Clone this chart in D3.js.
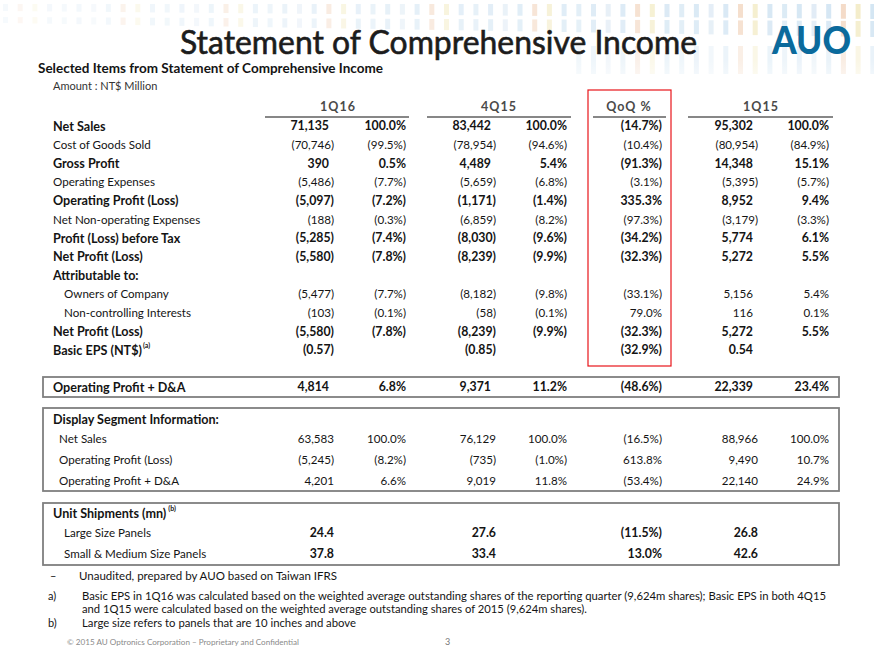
<!DOCTYPE html>
<html><head><meta charset="utf-8">
<script src="https://cdn.jsdelivr.net/npm/d3@7"></script>
<style>
html,body{margin:0;padding:0;background:#fff;}
svg{display:block;font-family:Lato,"Open Sans",sans-serif;}
</style></head>
<body>
<svg id="chart" width="874" height="656"></svg>
<script>
// ---------- DATA ----------
const periods = ["1Q16", "4Q15", "QoQ %", "1Q15"];

const incomeItems = ["Net Sales","Cost of Goods Sold","Gross Profit","Operating Expenses","Operating Profit (Loss)","Net Non-operating Expenses","Profit (Loss) before Tax","Net Profit (Loss)","Attributable to:","Owners of Company","Non-controlling Interests","Net Profit (Loss)","Basic EPS (NT$)"];
const amt1Q16 = [71135,-70746,390,-5486,-5097,-188,-5285,-5580,null,-5477,-103,-5580,-0.57];
const pct1Q16 = [100.0,-99.5,0.5,-7.7,-7.2,-0.3,-7.4,-7.8,null,-7.7,-0.1,-7.8,null];
const amt4Q15 = [83442,-78954,4489,-5659,-1171,-6859,-8030,-8239,null,-8182,-58,-8239,-0.85];
const pct4Q15 = [100.0,-94.6,5.4,-6.8,-1.4,-8.2,-9.6,-9.9,null,-9.8,-0.1,-9.9,null];
const qoqPct  = [-14.7,-10.4,-91.3,-3.1,335.3,-97.3,-34.2,-32.3,null,-33.1,79.0,-32.3,-32.9];
const amt1Q15 = [95302,-80954,14348,-5395,8952,-3179,5774,5272,null,5156,116,5272,0.54];
const pct1Q15 = [100.0,-84.9,15.1,-5.7,9.4,-3.3,6.1,5.5,null,5.4,0.1,5.5,null];

const opdaItem = ["Operating Profit + D&A"];
const opdaAmt1Q16 = [4814], opdaPct1Q16 = [6.8];
const opdaAmt4Q15 = [9371], opdaPct4Q15 = [11.2];
const opdaQoQ = [-48.6];
const opdaAmt1Q15 = [22339], opdaPct1Q15 = [23.4];

const segmentTitle = "Display Segment Information:";
const segmentItems = ["Net Sales","Operating Profit (Loss)","Operating Profit + D&A"];
const seg1Q16 = [63583,-5245,4201];
const segPct1Q16 = [100.0,-8.2,6.6];
const seg4Q15 = [76129,-735,9019];
const segPct4Q15 = [100.0,-1.0,11.8];
const segQoQ = [-16.5,613.8,-53.4];
const seg1Q15 = [88966,9490,22140];
const segPct1Q15 = [100.0,10.7,24.9];

const shipTitle = "Unit Shipments (mn)";
const shipItems = ["Large Size Panels","Small & Medium Size Panels"];
const ship1Q16 = [24.4,37.8];
const ship4Q15 = [27.6,33.4];
const shipQoQ = [-11.5,13.0];
const ship1Q15 = [26.8,42.6];

const footnoteMarks = ["–","a)","","b)"];
const footnotes = [
  "Unaudited, prepared by AUO based on Taiwan IFRS",
  "Basic EPS in 1Q16 was calculated based on the weighted average outstanding shares of the reporting quarter (9,624m shares); Basic EPS in both 4Q15",
  "and 1Q15 were calculated based on the weighted average outstanding shares of 2015 (9,624m shares).",
  "Large size refers to panels that are 10 inches and above"
];

// ---------- STYLE / LAYOUT ----------
const svg = d3.select("#chart");
const W = 874, H = 656;
const ink = "#141414";
const defs = svg.append("defs");
const lg = defs.append("linearGradient").attr("id","fadeGrad").attr("x1",0).attr("y1",0).attr("x2",0).attr("y2",1);
lg.append("stop").attr("offset","0%").attr("stop-color","#fff").attr("stop-opacity",0);
lg.append("stop").attr("offset","100%").attr("stop-color","#fff").attr("stop-opacity",1);

// decorative background strip
const deco = svg.append("g");
const decoCols = d3.range(0, 60);
const decoColors = ["#cfe3f2","#cfe3f2","#dde9f4","#f3ebc4","#cfe3f2","#f2d6c0","#d5e7f3"];
decoCols.forEach(i => {
  const x = i * 14.7 + 3;
  const t = i / 59;
  const op = 0.2 + 0.7 * t;
  const c = decoColors[(i * 5) % decoColors.length];
  deco.append("rect").attr("x", x).attr("y", 4).attr("width", 5).attr("height", 7 + 8*t).attr("fill", c).attr("opacity", op);
  deco.append("rect").attr("x", x).attr("y", 17 + 4*t).attr("width", 5).attr("height", 6 + 10*t).attr("fill", c).attr("opacity", op*0.9);
  if (i > 38) {
    deco.append("rect").attr("x", x).attr("y", 46).attr("width", 5).attr("height", 28).attr("fill", c).attr("opacity", op*0.5);
  }
});
svg.append("rect").attr("x",0).attr("y",60).attr("width",W).attr("height",40)
  .attr("fill","url(#fadeGrad)");

// title
svg.append("text").attr("x", 180).attr("y", 54)
  .attr("font-size", 32).attr("fill", "#1c1c1c").attr("font-weight", 400)
  .attr("stroke", "#1c1c1c").attr("stroke-width", 0.6)
  .attr("textLength", 517).attr("lengthAdjust", "spacingAndGlyphs")
  .text("Statement of Comprehensive Income");

// logo
svg.append("text").attr("x", 772).attr("y", 54)
  .attr("font-size", 37).attr("font-weight", 900).attr("fill", "#0b6a9c")
  .attr("textLength", 79).attr("lengthAdjust", "spacingAndGlyphs")
  .text("AUO");

svg.append("text").attr("x", 38).attr("y", 73)
  .attr("font-size", 13).attr("font-weight", 700).attr("fill", ink)
  .attr("textLength", 345).attr("lengthAdjust", "spacingAndGlyphs")
  .text("Selected Items from Statement of Comprehensive Income");
svg.append("text").attr("x", 53).attr("y", 90)
  .attr("font-size", 11).attr("fill", "#333")
  .text("Amount : NT$ Million");

// column scales
const valKeys = ["a1Q16","p1Q16","a4Q15","p4Q15","qoq","a1Q15","p1Q15"];
const colRight = d3.scaleOrdinal().domain(valKeys).range([334, 406, 496, 567, 662, 758, 829]);
const headerX = d3.scaleOrdinal().domain(periods).range([338, 499, 629, 761]);
const headerSpan = d3.scaleOrdinal().domain(periods).range([[265,409],[427,571],[593,666],[688,833]]);

// formatters
const fmtInt = d3.format(",");
const fmtAmt = v => {
  if (v == null) return "";
  const s = Number.isInteger(v) ? fmtInt(Math.abs(v)) : d3.format(".2f")(Math.abs(v));
  return v < 0 ? "(" + s + ")" : s;
};
const fmtPct = v => {
  if (v == null) return "";
  const s = d3.format(".1f")(Math.abs(v)) + "%";
  return v < 0 ? "(" + s + ")" : s;
};
const fmtNum1 = v => d3.format(".1f")(Math.abs(v));

// headers
const hdr = svg.append("g");
periods.forEach(p => {
  hdr.append("text").attr("x", headerX(p)).attr("y", 111)
    .attr("text-anchor", "middle").attr("font-size", 12.5).attr("font-weight", 700)
    .attr("fill", "#4a4a4a").attr("letter-spacing", 1).text(p);
  const [x0, x1] = headerSpan(p);
  hdr.append("line").attr("x1", x0).attr("x2", x1).attr("y1", 117).attr("y2", 117)
    .attr("stroke", "#111").attr("stroke-width", 1.2);
});

// red highlight box around QoQ
svg.append("rect").attr("x", 588).attr("y", 90).attr("width", 83).attr("height", 276)
  .attr("fill", "none").attr("stroke", "#e8141a").attr("stroke-width", 1.2);

// generic row renderer
const regSize = 11.6, boldLabelSize = 12.6, boldValSize = 12.3;
function drawRows(g, yScale, labels, cols, opts) {
  labels.forEach((lab, i) => {
    const y = yScale(i);
    const bold = opts.bold(i);
    const t = g.append("text").attr("x", opts.labelX(i)).attr("y", y).attr("dy", "0.36em")
      .attr("font-size", bold ? boldLabelSize : regSize).attr("font-weight", bold ? 700 : 400)
      .attr("fill", ink).text(lab);
    if (opts.sup && opts.sup(i)) {
      t.append("tspan").attr("font-size", 7).attr("dy", "-0.9em").attr("dx", 1).text(opts.sup(i));
    }
    cols.forEach(c => {
      const v = c.data[i];
      if (v == null) return;
      const txt = c.fmt(v);
      const shift = (opts.parenAlign && c.isAmt && v >= 0) ? -5 : 0;
      const vb = opts.valBold(i);
      g.append("text").attr("x", colRight(c.key) + shift).attr("y", y).attr("dy", "0.36em")
        .attr("text-anchor", "end").attr("font-size", vb ? boldValSize : regSize)
        .attr("font-weight", vb ? 700 : 400).attr("fill", ink)
        .text(txt);
    });
  });
}

// main income table
const yMain = d3.scalePoint().domain(d3.range(incomeItems.length)).range([126, 350]);
const boldMain = new Set([0,2,4,6,7,8,11,12]);
const indentMain = new Set([9,10]);
drawRows(svg.append("g"), yMain, incomeItems, [
  {key:"a1Q16", data:amt1Q16, fmt:fmtAmt, isAmt:true},
  {key:"p1Q16", data:pct1Q16, fmt:fmtPct},
  {key:"a4Q15", data:amt4Q15, fmt:fmtAmt, isAmt:true},
  {key:"p4Q15", data:pct4Q15, fmt:fmtPct},
  {key:"qoq",   data:qoqPct,  fmt:fmtPct},
  {key:"a1Q15", data:amt1Q15, fmt:fmtAmt, isAmt:true},
  {key:"p1Q15", data:pct1Q15, fmt:fmtPct}
], {
  bold: i => boldMain.has(i),
  valBold: i => boldMain.has(i),
  labelX: i => indentMain.has(i) ? 64 : 53,
  parenAlign: true,
  sup: i => i === 12 ? "(a)" : null
});

// boxes
const boxStroke = "#7f7f7f";
function box(y0, y1) {
  svg.append("rect").attr("x", 43).attr("y", y0).attr("width", 796).attr("height", y1 - y0)
    .attr("fill", "none").attr("stroke", boxStroke).attr("stroke-width", 1.8);
}

// Operating profit + D&A box
box(377, 397);
const yOpda = d3.scalePoint().domain([0]).range([387, 387]);
drawRows(svg.append("g"), yOpda, opdaItem, [
  {key:"a1Q16", data:opdaAmt1Q16, fmt:fmtAmt, isAmt:true},
  {key:"p1Q16", data:opdaPct1Q16, fmt:fmtPct},
  {key:"a4Q15", data:opdaAmt4Q15, fmt:fmtAmt, isAmt:true},
  {key:"p4Q15", data:opdaPct4Q15, fmt:fmtPct},
  {key:"qoq",   data:opdaQoQ,     fmt:fmtPct},
  {key:"a1Q15", data:opdaAmt1Q15, fmt:fmtAmt, isAmt:true},
  {key:"p1Q15", data:opdaPct1Q15, fmt:fmtPct}
], {bold: () => true, valBold: () => true, labelX: () => 53, parenAlign: true});

// Display segment box
box(408, 491);
svg.append("text").attr("x", 53).attr("y", 419).attr("dy", "0.36em")
  .attr("font-size", boldLabelSize).attr("font-weight", 700).attr("fill", ink).text(segmentTitle);
const ySeg = d3.scalePoint().domain(d3.range(segmentItems.length)).range([439, 481]);
drawRows(svg.append("g"), ySeg, segmentItems, [
  {key:"a1Q16", data:seg1Q16, fmt:fmtAmt, isAmt:true},
  {key:"p1Q16", data:segPct1Q16, fmt:fmtPct},
  {key:"a4Q15", data:seg4Q15, fmt:fmtAmt, isAmt:true},
  {key:"p4Q15", data:segPct4Q15, fmt:fmtPct},
  {key:"qoq",   data:segQoQ, fmt:fmtPct},
  {key:"a1Q15", data:seg1Q15, fmt:fmtAmt, isAmt:true},
  {key:"p1Q15", data:segPct1Q15, fmt:fmtPct}
], {bold: () => false, valBold: () => false, labelX: () => 59, parenAlign: false});

// Unit shipments box
box(503, 565);
const st = svg.append("text").attr("x", 53).attr("y", 513).attr("dy", "0.36em")
  .attr("font-size", boldLabelSize).attr("font-weight", 700).attr("fill", ink).text(shipTitle);
st.append("tspan").attr("font-size", 7).attr("dy", "-0.9em").attr("dx", 2).text("(b)");
const yShip = d3.scalePoint().domain(d3.range(shipItems.length)).range([533, 554]);
drawRows(svg.append("g"), yShip, shipItems, [
  {key:"a1Q16", data:ship1Q16, fmt:fmtNum1},
  {key:"a4Q15", data:ship4Q15, fmt:fmtNum1},
  {key:"qoq",   data:shipQoQ,  fmt:fmtPct},
  {key:"a1Q15", data:ship1Q15, fmt:fmtNum1}
], {bold: () => false, valBold: () => true, labelX: () => 64, parenAlign: false});

// footnotes
const fnY = [580, 600, 613, 627];
const fnEnd = [337, 826, 587, 356];
const fnStart = [79, 82, 82, 82];
footnotes.forEach((t, i) => {
  if (footnoteMarks[i]) {
    svg.append("text").attr("x", i === 0 ? 50 : 48).attr("y", fnY[i])
      .attr("font-size", 11).attr("fill", ink).text(footnoteMarks[i]);
  }
  svg.append("text").attr("x", fnStart[i]).attr("y", fnY[i])
    .attr("font-size", 11).attr("fill", ink)
    .attr("textLength", fnEnd[i] - fnStart[i]).attr("lengthAdjust", "spacingAndGlyphs")
    .text(t);
});

svg.append("text").attr("x", 67).attr("y", 645).attr("font-size", 7.5).attr("fill", "#8a8a8a")
  .attr("textLength", 232).attr("lengthAdjust", "spacingAndGlyphs")
  .text("© 2015 AU Optronics Corporation – Proprietary and Confidential");
svg.append("text").attr("x", 445).attr("y", 645).attr("font-size", 9).attr("fill", "#777").text("3");
</script>
</body></html>
